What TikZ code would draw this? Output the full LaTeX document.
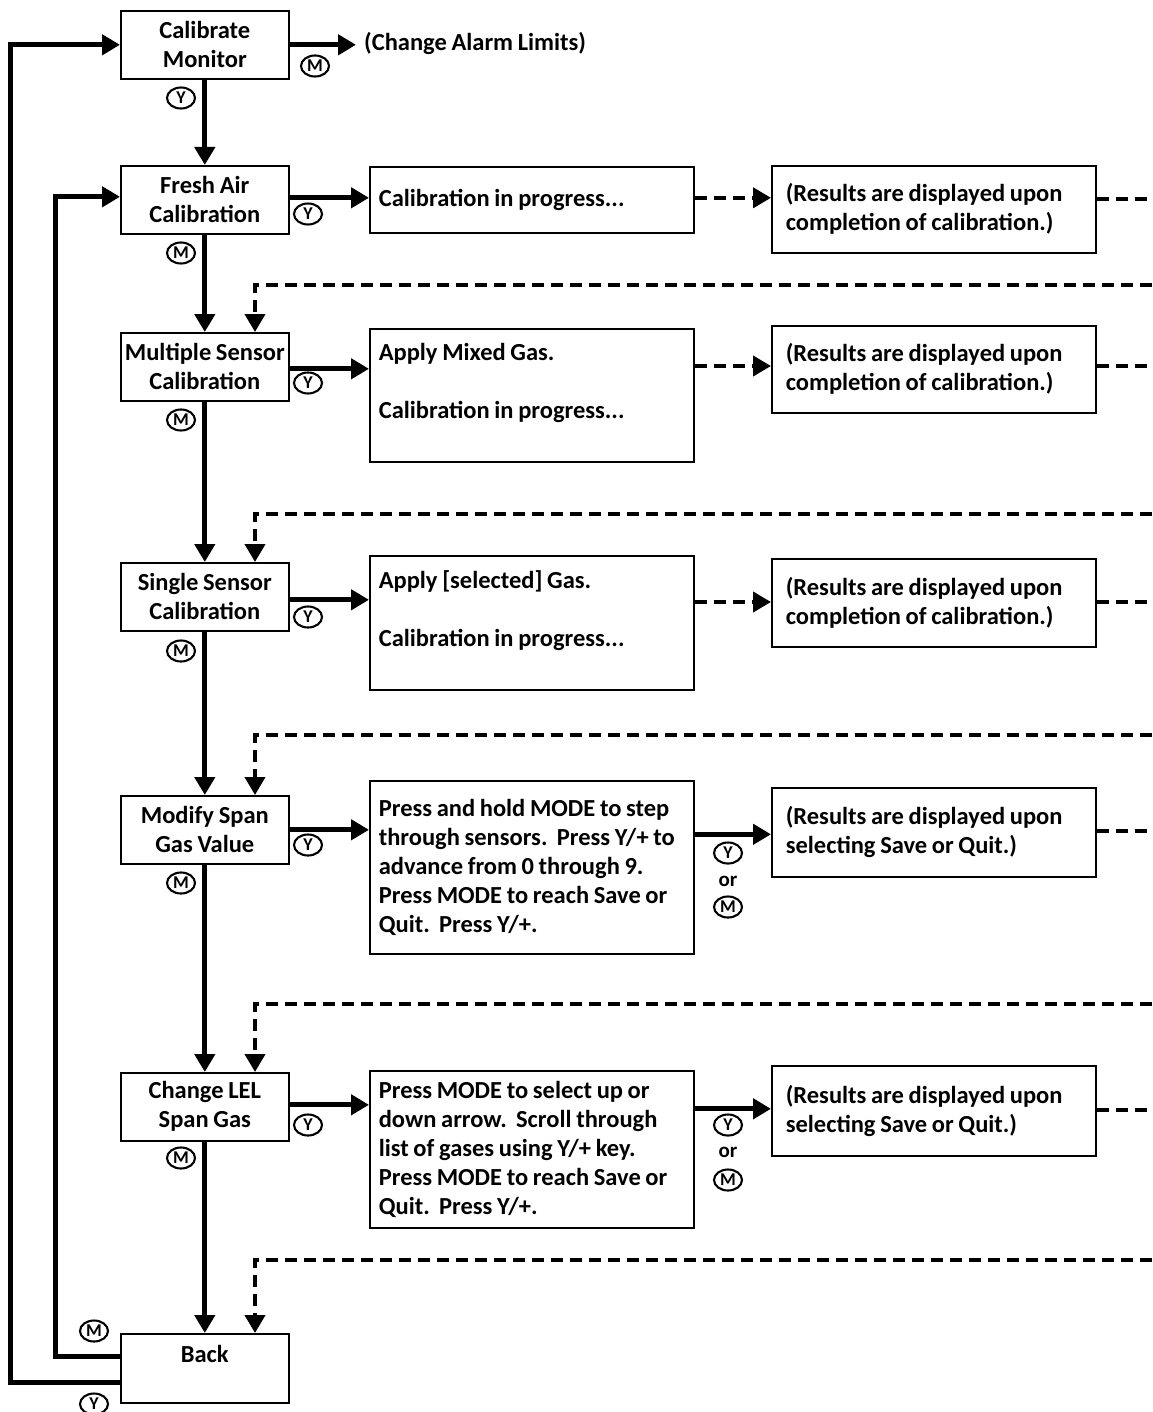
\documentclass[tikz,border=0pt]{standalone}
\usepackage{fontspec}
\setmainfont{Carlito}[WordSpace=0.85]
\usetikzlibrary{shapes.geometric,arrows.meta,calc}
\newcommand\ws{\spaceskip=0.19em\relax\xspaceskip=0.19em\relax}
\begin{document}
\begin{tikzpicture}[x=1pt,y=-1pt,
  txt/.style={font=\fontsize{24.5}{29}\selectfont\bfseries},
  lbox/.style={txt,draw,line width=1.6pt,minimum width=168pt,minimum height=68pt,align=center,inner sep=0pt,anchor=north west},
  mbox/.style={txt,draw,line width=1.6pt,text width=306pt,inner xsep=9pt,inner ysep=0pt,align=left,anchor=north west},
  rbox/.style={txt,draw,line width=1.6pt,text width=296pt,inner xsep=14pt,inner ysep=0pt,align=left,anchor=north west},
  key/.style={draw,ellipse,line width=2.1pt,minimum width=28pt,minimum height=21pt,inner sep=0pt,font=\fontsize{18}{18}\selectfont\bfseries},
  arr/.style={line width=5pt,-{Triangle[width=20pt,length=18pt]}},
  darr/.style={line width=4pt,dash pattern=on 12pt off 7pt,-{Triangle[width=20pt,length=18pt]}},
  dseg/.style={line width=4pt,dash pattern=on 12pt off 7pt},
  ortxt/.style={font=\fontsize{21}{21}\selectfont\bfseries,inner sep=0pt},
]
\useasboundingbox (0,0) rectangle (1152,1412);
% left column
\node[lbox] (cm) at (120,10) {\ws Calibrate\\Monitor};
\node[lbox] (fa) at (120,165) {\ws Fresh Air\\Calibration};
\node[lbox] (ms) at (120,332) {\ws Multiple Sensor\\Calibration};
\node[lbox] (ss) at (120,562) {\ws Single Sensor\\Calibration};
\node[lbox] (mg) at (120,795) {\ws Modify Span\\Gas Value};
\node[lbox] (cl) at (120,1072) {\ws Change LEL\\Span Gas};
\node[lbox,minimum height=69pt] (bk) at (120,1333) {Back\\\mbox{}};
% middle column
\node[mbox,minimum height=66pt] (cip) at (369,166) {\ws Calibration in progress...};
\node[mbox,minimum height=133pt] (amg) at (369,328) {\ws Apply Mixed Gas.\\\mbox{}\\Calibration in progress...\\\mbox{}};
\node[mbox,minimum height=134pt] (asg) at (369,555) {\ws Apply [selected] Gas.\\\mbox{}\\Calibration in progress...\\\mbox{}};
\node[mbox,minimum height=173pt] (pm) at (369,780) {\ws Press and hold MODE to step\\through sensors.\ \ Press Y/+ to\\advance from 0 through 9.\\Press MODE to reach Save or\\Quit.\ \ Press Y/+.};
\node[mbox,minimum height=157pt] (pl) at (369,1070) {\ws Press MODE to select up or\\down arrow.\ \ Scroll through\\list of gases using Y/+ key.\\Press MODE to reach Save or\\Quit.\ \ Press Y/+.};
% right column
\node[rbox,minimum height=87pt] (r1) at (771,165) {\ws (Results are displayed upon\\completion of calibration.)};
\node[rbox,minimum height=87pt] (r2) at (771,325) {\ws (Results are displayed upon\\completion of calibration.)};
\node[rbox,minimum height=88pt] (r3) at (771,558) {\ws (Results are displayed upon\\completion of calibration.)};
\node[rbox,minimum height=89pt] (r4) at (771,787) {\ws (Results are displayed upon\\selecting Save or Quit.)};
\node[rbox,minimum height=90pt] (r5) at (771,1065) {\ws (Results are displayed upon\\selecting Save or Quit.)};
% top right text
\node[txt,anchor=west,inner sep=0pt] (cal) at (364,43) {\ws (Change Alarm Limits)};
% edge coordinates
\coordinate (o1) at (1152,199);
\coordinate (o2) at (1152,366);
\coordinate (o3) at (1152,602);
\coordinate (o4) at (1152,831);
\coordinate (o5) at (1152,1110);
\coordinate (t1) at (1152,285);
\coordinate (t2) at (1152,514);
\coordinate (t3) at (1152,735);
\coordinate (t4) at (1152,1004);
\coordinate (t5) at (1152,1260);
% main vertical flow
\draw[arr] (cm.south) -- (fa.north);
\draw[arr] (fa.south) -- (ms.north);
\draw[arr] (ms.south) -- (ss.north);
\draw[arr] (ss.south) -- (mg.north);
\draw[arr] (mg.south) -- (cl.north);
\draw[arr] (cl.south) -- (bk.north);
% to alarm limits
\draw[arr] (cm.east) -- ($(cm.east -| cal.west)+(-8,0)$);
% left to middle
\draw[arr] ($(fa.east)+(0,-2)$) -- ($(fa.east -| cip.west)+(0,-2)$);
\draw[arr] ($(ms.east)+(0,2)$) -- ($(ms.east -| amg.west)+(0,2)$);
\draw[arr] ($(ss.east)+(0,3)$) -- ($(ss.east -| asg.west)+(0,3)$);
\draw[arr] (mg.east) -- (mg.east -| pm.west);
\draw[arr] ($(cl.east)+(0,-2)$) -- ($(cl.east -| pl.west)+(0,-2)$);
% middle to right
\draw[darr] ($(cip.east)+(0,-2)$) -- ($(cip.east -| r1.west)+(0,-2)$);
\draw[darr] (o2 -| amg.east) -- (o2 -| r2.west);
\draw[darr] (o3 -| asg.east) -- (o3 -| r3.west);
\draw[arr] ($(r4.west -| pm.east)+(0,2)$) -- ($(r4.west)+(0,2)$);
\draw[arr] ($(r5.west -| pl.east)+(0,-2)$) -- ($(r5.west)+(0,-2)$);
% right outgoing dashed
\draw[dseg] (o1 -| r1.east) -- (o1);
\draw[dseg] (o2 -| r2.east) -- (o2);
\draw[dseg] (o3 -| r3.east) -- (o3);
\draw[dseg] (o4 -| r4.east) -- (o4);
\draw[dseg] (o5 -| r5.east) -- (o5);
% dashed returns
\draw[darr] (t1) -| ($(ms.north west)+(135,0)$);
\draw[darr] (t2) -| ($(ss.north west)+(135,0)$);
\draw[darr] (t3) -| ($(mg.north west)+(135,0)$);
\draw[darr] (t4) -| ($(cl.north west)+(135,0)$);
\draw[darr] (t5) -| ($(bk.north west)+(135,0)$);
% loops
\draw[arr] ($(bk.west)+(0,14)$) -- ++(-110,0) |- (cm.west);
\draw[arr] ($(bk.west)+(0,-12)$) -- ++(-65,0) |- ($(fa.west)+(0,-3)$);
% key labels
\node[key] (kcy) at (181,98) {Y};
\node[key] (kcm) at (315,66) {M};
\node[key] (kfy) at (308,214) {Y};
\node[key] (kfm) at (181,253) {M};
\node[key] (kmy) at (308,383) {Y};
\node[key] (kmm) at (181,420) {M};
\node[key] (ksy) at (308,617) {Y};
\node[key] (ksm) at (181,651) {M};
\node[key] (kgy) at (308,845) {Y};
\node[key] (kgm) at (181,883) {M};
\node[key] (kly) at (308,1125) {Y};
\node[key] (klm) at (181,1158) {M};
\node[key] (kbm) at (94,1331) {M};
\node[key] (kby) at (94,1404) {Y};
\node[key] (kry1) at (728,853) {Y};
\node[ortxt] (or1) at (728,881) {or};
\node[key] (krm1) at (728,907) {M};
\node[key] (kry2) at (728,1125) {Y};
\node[ortxt] (or2) at (728,1152) {or};
\node[key] (krm2) at (728,1180) {M};
\end{tikzpicture}
\end{document}
